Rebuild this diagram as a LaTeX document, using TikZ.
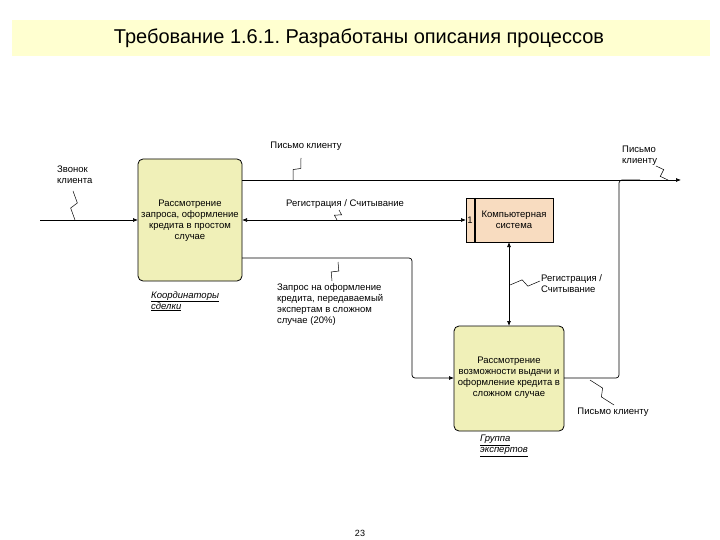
\documentclass[tikz,border=0pt]{standalone}
\usepackage{fontspec}
\setmainfont{Liberation Sans}
\usetikzlibrary{calc,arrows.meta}
\frenchspacing
\definecolor{titlebg}{HTML}{FFFFD0}
\definecolor{actfill}{HTML}{F0F0B8}
\definecolor{sysfill}{HTML}{F8DCC0}
\tikzset{
  lbl/.style={font=\fontsize{9.5}{11}\selectfont, inner sep=0pt, align=left},
  lblc/.style={font=\fontsize{9.5}{11}\selectfont, inner sep=0pt, align=center},
  mech/.style={font=\fontsize{9.5}{11}\selectfont\itshape, inner sep=0pt, align=left},
  activity/.style={draw, line width=0.8pt, rounded corners=5pt, fill=actfill},
  arr/.style={line width=0.7pt, -{Latex[length=5pt,width=4pt]}},
  arrboth/.style={line width=0.7pt, {Latex[length=5pt,width=4pt]}-{Latex[length=5pt,width=4pt]}},
  ln/.style={line width=0.7pt},
  squig/.style={line width=0.5pt},
}
\newcommand{\zzline}[2]{\draw[squig] (#1) -- ($(#1)!0.42!(#2)!3.5pt!90:(#2)$) -- ($(#1)!0.58!(#2)!-3.5pt!90:(#2)$) -- (#2);}
\begin{document}
\begin{tikzpicture}[x=1pt,y=-1pt]
\useasboundingbox (0,0) rectangle (720,540);
\fill[white] (0,0) rectangle (720,540);
% title band
\fill[titlebg] (12,20) rectangle (710,56);
\node[inner sep=0pt, font=\fontsize{20}{22}\selectfont] (title) at (359,38) {Требование 1.6.1. Разработаны описания процессов};

% activity 1
\draw[activity] (138,159) rectangle (242,281);
\node[lblc] (a1) at (190,221) {Рассмотрение\\запроса, оформление\\кредита в простом\\случае};
\coordinate (a1w) at (138,220);
\coordinate (a1e1) at (242,180);
\coordinate (a1e2) at (242,220);
\coordinate (a1e3) at (242,258);
\node[mech, anchor=north west] (m1) at (151,291) {\underline{Координаторы}\\\underline{сделки}};

% computer system
\draw[line width=0.8pt, fill=sysfill] (466,198) rectangle (553,242);
\draw[line width=1.6pt] (475,198) -- (475,242);
\node[lblc] (n1) at (470,220) {1};
\node[lblc] (cs) at (514,220) {Компьютерная\\система};
\coordinate (csw) at (466,220);
\coordinate (css) at (509,242);

% activity 2
\draw[activity] (454,326) rectangle (564,431);
\node[lblc] (a2) at (509,378) {Рассмотрение\\возможности выдачи и\\оформление кредита в\\сложном случае};
\coordinate (a2n) at (509,326);
\coordinate (a2w) at (454,378);
\coordinate (a2e) at (564,378);
\node[mech, anchor=north west] (m2) at (480,435) {\underline{Группа}\\\underline{экспертов}};

% connectors
\coordinate (in0) at (40,220);
\draw[arr] (in0) -- (a1w);
\coordinate (outend) at (681,180);
\draw[arr] (a1e1) -- (outend);
\draw[arrboth] (a1e2) -- (csw);
\draw[arr, rounded corners=3pt] (a1e3) -- (412,258) -- (412,378) -- (a2w);
\draw[arrboth] (css) -- (a2n);
\draw[ln, rounded corners=3pt] (a2e) -- (619,378) -- (619,180) -- (640,180);

% labels
\node[lbl, anchor=north west] (l1) at (57,166) {Звонок\\клиента};
\coordinate (s1a) at (73,191); \coordinate (s1b) at (75,220);
\zzline{s1a}{s1b}
\node[lblc] (l2) at (306,146) {Письмо клиенту};
\coordinate (s2a) at (301,158); \coordinate (s2b) at (293,180);
\zzline{s2a}{s2b}
\node[lbl, anchor=north west] (l3) at (622,146) {Письмо\\клиенту};
\coordinate (s3a) at (656,166); \coordinate (s3b) at (668,180);
\zzline{s3a}{s3b}
\node[lblc] (l4) at (345,204) {Регистрация / Считывание};
\coordinate (s4a) at (339,210); \coordinate (s4b) at (337,220);
\zzline{s4a}{s4b}
\node[lbl, anchor=north west] (l5) at (277,283) {Запрос на оформление\\кредита, передаваемый\\экспертам в сложном\\случае (20\%)};
\coordinate (s5a) at (338,262); \coordinate (s5b) at (332,281);
\zzline{s5a}{s5b}
\node[lbl, anchor=north west] (l6) at (541,274) {Регистрация /\\Считывание};
\coordinate (s6a) at (540,281); \coordinate (s6b) at (510,285);
\zzline{s6a}{s6b}
\node[lblc] (l7) at (613,412) {Письмо клиенту};
\coordinate (s7a) at (590,380); \coordinate (s7b) at (614,405);
\zzline{s7a}{s7b}

\node[inner sep=0pt, font=\fontsize{9}{10}\selectfont] (pg) at (360,533) {23};
\end{tikzpicture}
\end{document}
